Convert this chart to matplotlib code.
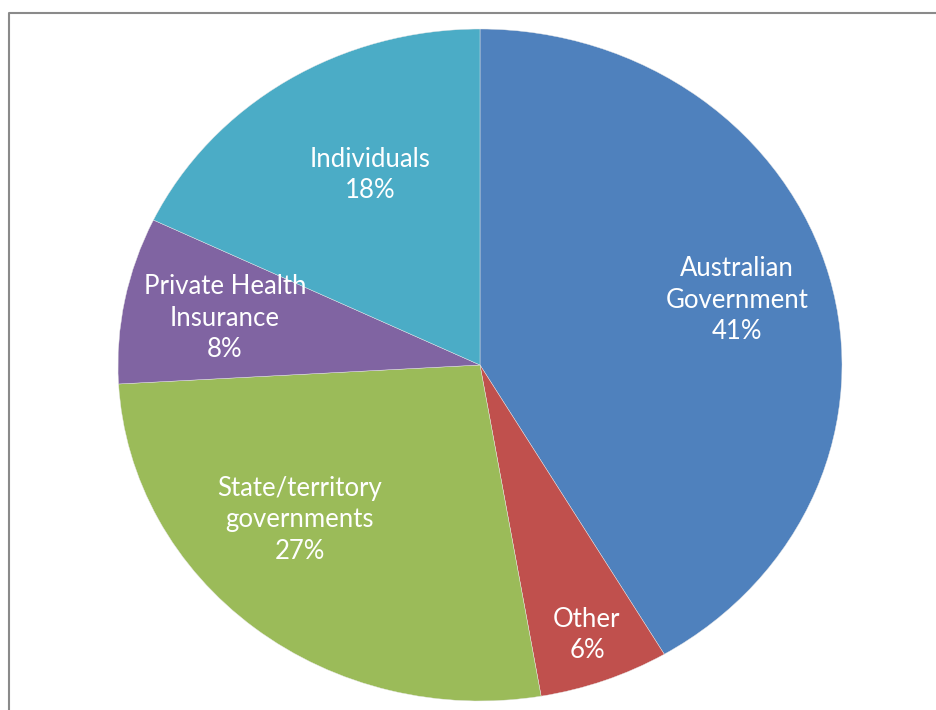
import matplotlib
matplotlib.use("Agg")
import matplotlib.pyplot as plt
from matplotlib.lines import Line2D

# Data (shares of funding, clockwise from top)
categories = ["Australian\nGovernment", "Other", "State/territory\ngovernments",
              "Private Health\nInsurance", "Individuals"]
values = [41.5, 5.8, 26.8, 8.0, 17.9]
pct_labels = ["41%", "6%", "27%", "8%", "18%"]
colors = ["#4F81BD", "#C0504D", "#9BBB59", "#8064A2", "#4BACC6"]

# label centres in pixels (x, y from top)
label_pos = [(737, 300), (587, 635), (300, 520), (225, 318), (370, 175)]

W, H = 937, 710
fig = plt.figure(figsize=(W / 100, H / 100), dpi=100)
ax = fig.add_axes([0, 0, 1, 1])
cx, cy, rx, ry = 480, 365, 362, 336
ax.pie(values, colors=colors, startangle=90, counterclock=False,
       radius=1.0, center=(0, 0),
       wedgeprops=dict(linewidth=0.3, edgecolor="#e8e8e8"))
ax.set_aspect("auto")
ax.set_xlim(-cx / rx, (W - cx) / rx)
ax.set_ylim(-(H - cy) / ry, cy / ry)
ax.axis("off")

for cat, pct, (px, py) in zip(categories, pct_labels, label_pos):
    fig.text(px / W, 1 - py / H, f"{cat}\n{pct}", ha="center", va="center",
             color="white", fontsize=18.5, family="Lato", linespacing=1.33)

# outer frame (partially cropped)
fig.add_artist(Line2D([9 / W, 9 / W, 1.0], [0.0, 1 - 12.5 / H, 1 - 12.5 / H],
                      transform=fig.transFigure, color="#8a8a8a", linewidth=1.5))

fig.savefig("out.png", dpi=100)
